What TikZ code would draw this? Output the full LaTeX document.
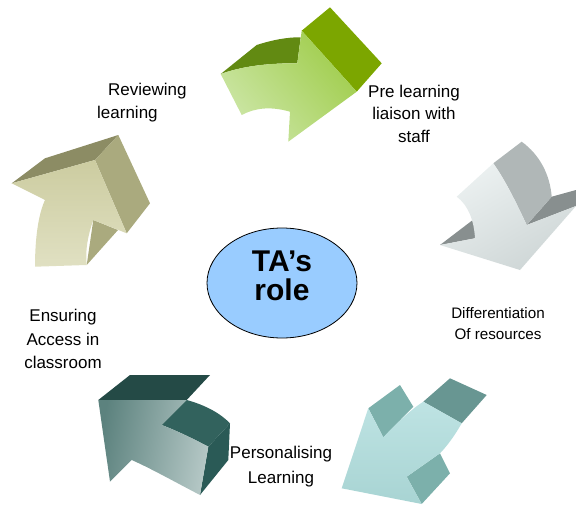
\documentclass[tikz,border=0pt]{standalone}
\usepackage{fontspec}
\setmainfont{Liberation Sans}
\usetikzlibrary{shapes.geometric,positioning}

\definecolor{hubblue}{RGB}{153,204,255}
\definecolor{grnlight}{RGB}{204,230,166}
\definecolor{grnmid}{RGB}{160,205,76}
\definecolor{grnside}{RGB}{124,166,0}
\definecolor{grnback}{RGB}{98,138,18}
\definecolor{grylight}{RGB}{236,241,241}
\definecolor{grymid}{RGB}{206,214,214}
\definecolor{gryside}{RGB}{176,183,183}
\definecolor{grydark}{RGB}{136,143,143}
\definecolor{tlight}{RGB}{190,227,227}
\definecolor{tmid}{RGB}{168,212,211}
\definecolor{tside}{RGB}{124,176,171}
\definecolor{tback}{RGB}{104,150,146}
\definecolor{dklight}{RGB}{180,199,197}
\definecolor{dkmid}{RGB}{92,130,126}
\definecolor{dktop}{RGB}{36,74,70}
\definecolor{dktail}{RGB}{50,98,93}
\definecolor{dkside}{RGB}{42,90,86}
\definecolor{khlight}{RGB}{224,224,194}
\definecolor{khmid}{RGB}{204,204,160}
\definecolor{khtop}{RGB}{140,140,100}
\definecolor{khside}{RGB}{170,170,126}

\tikzset{
  lbl/.style={font=\fontsize{17}{22.5}\selectfont, align=center, inner sep=0pt},
  hub/.style={ellipse, draw=black, line width=0.8pt, fill=hubblue,
    minimum width=150pt, minimum height=110pt, inner sep=0pt},
}

\begin{document}
\begin{tikzpicture}[x=1pt, y=-1pt]
\useasboundingbox (0,0) rectangle (576,506);

% top arrow (green)
\fill[grnback] (220.7,74) -- (256.7,45) .. controls (272,40) and (288,37) .. (300.7,37.3)
    -- (297.3,63.3) .. controls (265,63) and (240,67) .. cycle;
\fill[grnside] (301.7,30.7) -- (330,7.3) -- (381.7,63.3) -- (356.7,91.7) -- cycle;
\shade[top color=grnmid, bottom color=grnlight, shading angle=-50]
    (297.3,63.3) -- (301.7,30.7) -- (356.7,91.7) -- (288.3,141.7) -- (290,111.7)
    .. controls (270,106) and (255,108) .. (241.7,115) -- (220.7,74)
    .. controls (240,67) and (265,63) .. cycle;

% right arrow (grey)
\fill[grydark] (440,245) -- (475,218.3) -- (475,238.3) -- cycle;
\fill[grydark] (526.7,225) -- (551.7,196.7) -- (576,190) -- (576,206) -- cycle;
\fill[gryside] (493.3,163.3) -- (521.7,141.7) .. controls (540,155) and (550,175) .. (551.7,196.7)
    -- (526.7,225) .. controls (515,200) and (505,180) .. cycle;
\shade[top color=grylight, bottom color=grymid, shading angle=30]
    (456.7,196.7) -- (493.3,163.3) .. controls (505,180) and (515,200) .. (526.7,225)
    -- (576,206) -- (520,270) -- (440,245) -- (475,238.3)
    .. controls (474,220) and (468,205) .. cycle;

% lower right arrow (light teal)
\fill[tback] (423.3,401.7) -- (450,378.3) -- (486.7,395) -- (461.7,423.3) -- cycle;
\fill[tside] (368.3,408.3) -- (400,385) -- (413.3,406.7) -- (383.3,437.3) -- cycle;
\fill[tside] (406.7,476.7) -- (440,453.3) -- (450,473.3) -- (421.7,504) -- cycle;
\shade[top color=tlight, bottom color=tmid]
    (423.3,401.7) -- (461.7,423.3) .. controls (455,435) and (448,445) .. (440,453.3)
    -- (406.7,476.7) -- (421.7,504) -- (341.7,488.3) -- (368.3,408.3) -- (383.3,437.3)
    .. controls (395,425) and (410,410) .. cycle;

% lower left arrow (dark teal)
\fill[dktop] (98.3,400) -- (130,375) -- (210,375) -- (186.7,400) -- cycle;
\fill[dkside] (208.3,446.7) -- (230,423.3) -- (228.3,460) -- (200,495) -- cycle;
\fill[dktail] (161.7,425) -- (186.7,400) .. controls (205,405) and (220,413) .. (230,423.3)
    -- (208.3,446.7) .. controls (192,438) and (175,430) .. cycle;
\shade[left color=dkmid, right color=dklight, shading angle=80]
    (98.3,400) -- (186.7,400) -- (161.7,425) .. controls (175,430) and (192,438) .. (208.3,446.7)
    -- (200,495) .. controls (175,482) and (150,468) .. (131.7,460) -- (110,481.7) -- cycle;

% left arrow (khaki)
\fill[khtop] (11.7,183.3) -- (45,158.3) -- (118.3,135) -- (95,160) -- cycle;
\fill[khside] (95,160) -- (118.3,135) -- (150,203.3) -- (126.7,233.3) -- cycle;
\fill[khside] (93.3,220) -- (118,230) -- (86.7,265) -- cycle;
\shade[top color=khmid, bottom color=khlight]
    (11.7,183.3) -- (95,160) -- (126.7,233.3) -- (93.3,220)
    .. controls (88,235) and (85,250) .. (86.7,265) -- (35,266.7)
    .. controls (35,240) and (38,215) .. (45,200) -- cycle;

% centre
\node[hub] (role) at (282,283) {};
\node[font=\bfseries\fontsize{30}{29.5}\selectfont, align=center, inner sep=0pt]
    (ta) at ([yshift=7pt]role.center) {TA’s\\role};

% labels
\node[lbl, align=left, anchor=west] (review) at (97,102.6) {\hspace*{11pt}Reviewing\\learning};
\node[lbl] (liaison) at (414,113.9) {Pre learning\\liaison with\\staff};
\node[lbl, font=\fontsize{15.2}{21}\selectfont] (diff) at (498,323.3) {Differentiation\\Of resources};
\node[lbl, font=\fontsize{17}{23.6}\selectfont] (access) at (63,339.2) {Ensuring\\Access in\\classroom};
\node[lbl, font=\fontsize{17}{25}\selectfont] (person) at (281,466.4) {Personalising\\Learning};
\end{tikzpicture}
\end{document}
